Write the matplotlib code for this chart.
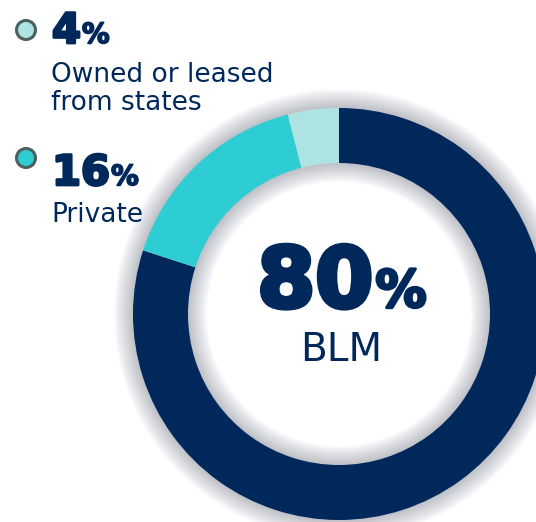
import matplotlib
matplotlib.use("Agg")
import matplotlib.pyplot as plt
from matplotlib.patches import Wedge, Circle
import matplotlib.patheffects as pe

# ---- data ----
categories = ["BLM", "Private", "Owned or leased\nfrom states"]
shares = [80, 16, 4]
share_labels = ["80", "16", "4"]
colors = ["#00285A", "#2ECDD3", "#AEE3E3"]

W, H = 536, 522
NAVY = "#00285A"
fig = plt.figure(figsize=(W / 100, H / 100), dpi=100)
ax = fig.add_axes([0, 0, 1, 1])

cx, cy = 339, H - 314
R, ring_w = 206, 55
r_in = R - ring_w

# soft glow/shadow around the ring
for d in range(1, 20):
    ax.add_patch(Wedge((cx, cy), R + d, 0, 360, width=(R + d) - (r_in - d),
                       facecolor="#50546a", edgecolor="none", alpha=0.02, zorder=1))

ax.pie(shares, colors=colors, startangle=90, counterclock=False,
       center=(cx, cy), radius=R,
       wedgeprops=dict(width=ring_w, edgecolor="none", zorder=2))
ax.set_xlim(0, W)
ax.set_ylim(0, H)
ax.set_aspect("equal")
ax.axis("off")

BFONT = ["DejaVu Sans"]
LFONT = ["DejaVu Sans"]

fig.canvas.draw()
renderer = fig.canvas.get_renderer()


def big_pct(x, y, num, size_num, size_pct, stroke, ha="left", gap=1):
    fx = [pe.withStroke(linewidth=stroke, foreground=NAVY)]
    t = ax.text(x, y, num, fontsize=size_num, fontweight="bold", family=BFONT,
                color=NAVY, ha="left", va="baseline", zorder=5, path_effects=fx)
    bb = t.get_window_extent(renderer)
    p = ax.text(bb.x1 + gap, y, "%", fontsize=size_pct, fontweight="bold", family=BFONT,
                color=NAVY, ha="left", va="baseline", zorder=5,
                path_effects=[pe.withStroke(linewidth=stroke * 0.6, foreground=NAVY)])
    if ha == "center":
        bp = p.get_window_extent(renderer)
        total = bp.x1 - bb.x0
        shift = x - total / 2 - bb.x0
        t.set_x(bb.x0 + shift)
        p.set_x(bb.x1 + gap + shift)
    return t, p


# legend items
legend_y = [30, 158]
num_base = [43, 185]
text_base = [[82, 110], [222]]
texts = [["Owned or leased", "from states"], ["Private"]]
items = [2, 1]
for k, idx in enumerate(items):
    ax.add_patch(Circle((26, H - legend_y[k]), 9.5, facecolor=colors[idx],
                        edgecolor="#4D605E", linewidth=2.2, zorder=5))
    big_pct(52, H - num_base[k], share_labels[idx], 30, 20, 2.0)
    for line, b in zip(texts[k], text_base[k]):
        ax.text(51, H - b, line, fontsize=19, family=LFONT, color=NAVY,
                ha="left", va="baseline", zorder=5)

# centre label
big_pct(342, H - 307, share_labels[0], 60, 37, 3.5, ha="center", gap=2)
ax.text(341, H - 361, categories[0], fontsize=28, family=LFONT, color=NAVY,
        ha="center", va="baseline", zorder=5)

fig.savefig("out.png", dpi=100, facecolor="white")
